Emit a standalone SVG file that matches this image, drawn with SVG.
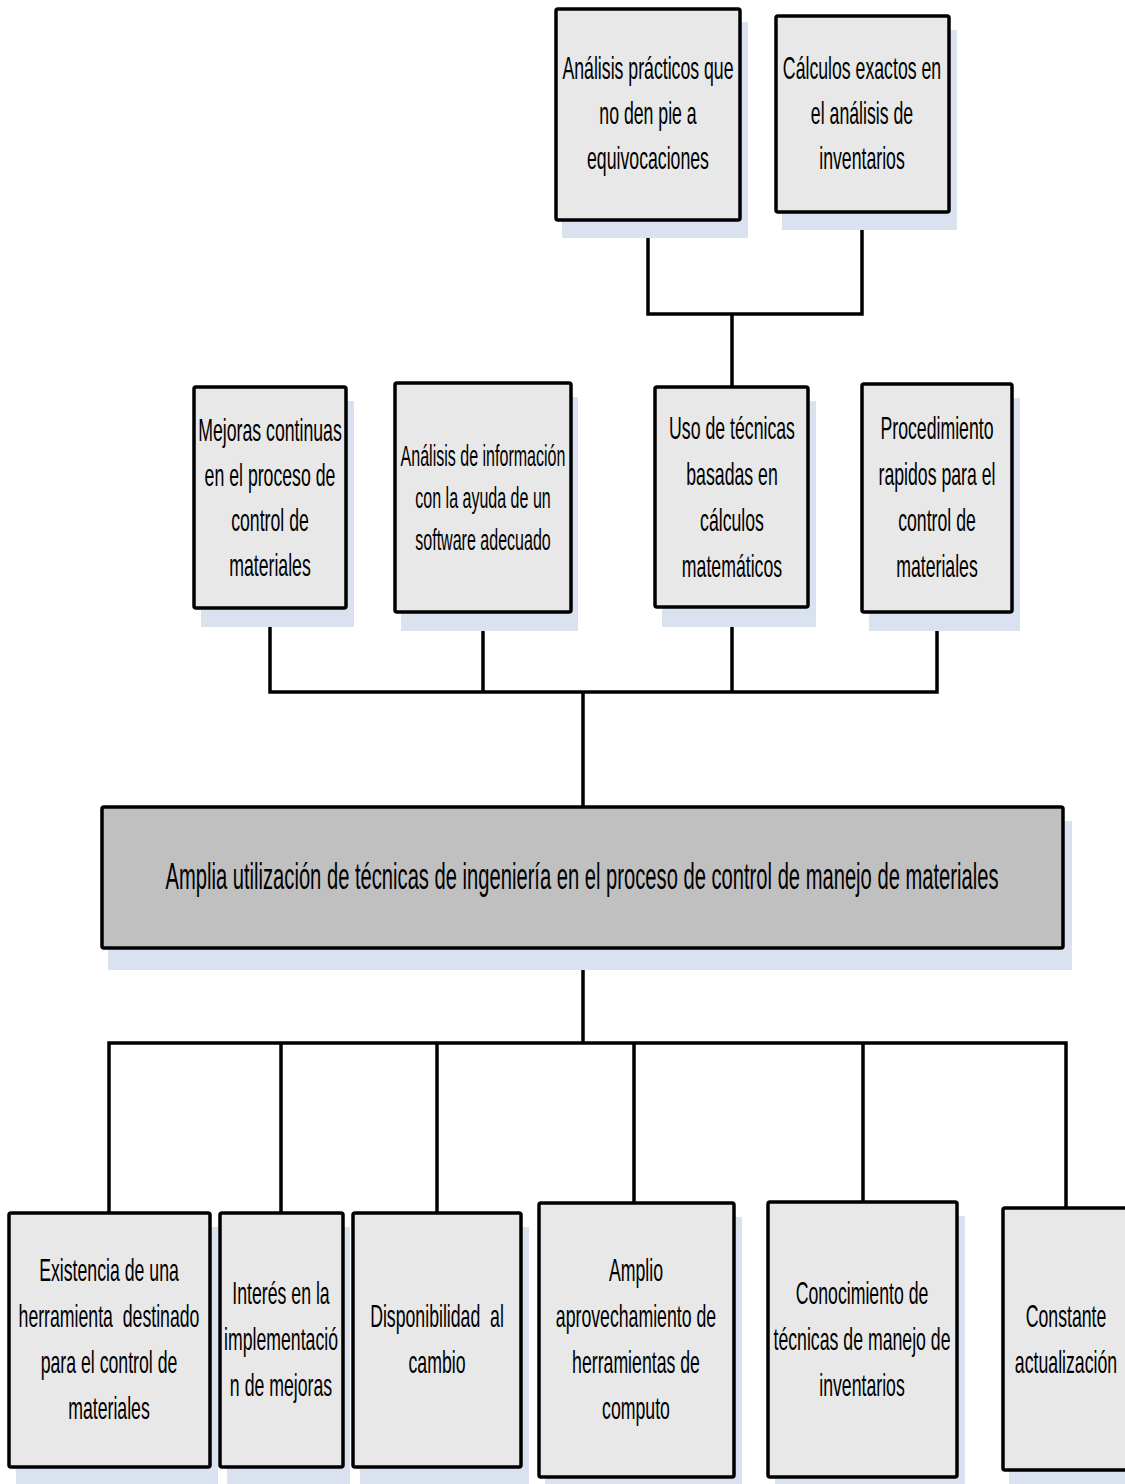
<svg xmlns="http://www.w3.org/2000/svg" width="1125" height="1484" viewBox="0 0 1125 1484">
<style>
.sh{fill:#dae2f0;stroke:none}
.bx{fill:#e8e8e8;stroke:#000;stroke-width:3.5}
.mb{fill:#c0c0c0;stroke:#000;stroke-width:3.5}
.t{font-family:"Liberation Sans",Arial,sans-serif;font-size:32px;fill:#000;text-anchor:middle;white-space:pre}
.ts{font-size:29px}
.tm{font-size:37px}
.cn{fill:none;stroke:#000;stroke-width:3.5}
</style>
<rect width="1125" height="1484" fill="#fff"/>
<g id="connectors">
<polyline class="cn" points="648,220 648,314 862,314 862,212"/>
<line class="cn" x1="732" y1="314" x2="732" y2="387"/>
<polyline class="cn" points="270,608 270,692 937,692 937,612"/>
<line class="cn" x1="483" y1="612" x2="483" y2="692"/>
<line class="cn" x1="732" y1="607" x2="732" y2="692"/>
<line class="cn" x1="583" y1="692" x2="583" y2="807"/>
<line class="cn" x1="583" y1="948" x2="583" y2="1043"/>
<polyline class="cn" points="109,1213 109,1043 1066,1043 1066,1208"/>
<line class="cn" x1="281" y1="1043" x2="281" y2="1213"/>
<line class="cn" x1="437" y1="1043" x2="437" y2="1213"/>
<line class="cn" x1="634" y1="1043" x2="634" y2="1203"/>
<line class="cn" x1="863" y1="1043" x2="863" y2="1202"/>
</g>
<g id="n1">
<rect class="sh" x="562" y="22" width="186" height="216"/>
<rect class="bx" x="556" y="9" width="184" height="211" rx="2"/>
<g transform="translate(648,0) scale(0.553,1)"><text class="t" x="0" y="79">Análisis prácticos que</text><text class="t" x="0" y="124">no den pie a</text><text class="t" x="0" y="169">equivocaciones</text></g>
</g>
<g id="n2">
<rect class="sh" x="782" y="30" width="175" height="200"/>
<rect class="bx" x="776" y="16" width="173" height="196" rx="2"/>
<g transform="translate(862,0) scale(0.553,1)"><text class="t" x="0" y="79">Cálculos exactos en</text><text class="t" x="0" y="124">el análisis de</text><text class="t" x="0" y="169">inventarios</text></g>
</g>
<g id="n3">
<rect class="sh" x="201" y="401" width="153" height="226"/>
<rect class="bx" x="194" y="387" width="152" height="221" rx="2"/>
<g transform="translate(270,0) scale(0.553,1)"><text class="t" x="0" y="441">Mejoras continuas</text><text class="t" x="0" y="486">en el proceso de</text><text class="t" x="0" y="531">control de</text><text class="t" x="0" y="576">materiales</text></g>
</g>
<g id="n4">
<rect class="sh" x="401" y="397" width="177" height="234"/>
<rect class="bx" x="395" y="383" width="176" height="229" rx="2"/>
<g transform="translate(483,0) scale(0.553,1)"><text class="t ts" x="0" y="466">Análisis de información</text><text class="t ts" x="0" y="508">con la ayuda de un</text><text class="t ts" x="0" y="550">software adecuado</text></g>
</g>
<g id="n5">
<rect class="sh" x="662" y="401" width="154" height="226"/>
<rect class="bx" x="655" y="387" width="153" height="220" rx="2"/>
<g transform="translate(732,0) scale(0.553,1)"><text class="t" x="0" y="439">Uso de técnicas</text><text class="t" x="0" y="485">basadas en</text><text class="t" x="0" y="531">cálculos</text><text class="t" x="0" y="577">matemáticos</text></g>
</g>
<g id="n6">
<rect class="sh" x="869" y="398" width="151" height="233"/>
<rect class="bx" x="862" y="384" width="150" height="228" rx="2"/>
<g transform="translate(937,0) scale(0.553,1)"><text class="t" x="0" y="439">Procedimiento</text><text class="t" x="0" y="485">rapidos para el</text><text class="t" x="0" y="531">control de</text><text class="t" x="0" y="577">materiales</text></g>
</g>
<g id="main">
<rect class="sh" x="108" y="821" width="964" height="149"/>
<rect class="mb" x="102" y="807" width="961" height="141" rx="2"/>
<text class="t tm" x="582" y="889" textLength="833" lengthAdjust="spacingAndGlyphs">Amplia utilización de técnicas de ingeniería en el proceso de control de manejo de materiales</text>
</g>
<g id="b1">
<rect class="sh" x="16" y="1227" width="202" height="260"/>
<rect class="bx" x="9" y="1213" width="201" height="254" rx="2"/>
<g transform="translate(109,0) scale(0.553,1)"><text class="t" x="0" y="1281">Existencia de una</text><text class="t" x="0" y="1327">herramienta  destinado</text><text class="t" x="0" y="1373">para el control de</text><text class="t" x="0" y="1419">materiales</text></g>
</g>
<g id="b2">
<rect class="sh" x="227" y="1227" width="123" height="260"/>
<rect class="bx" x="220" y="1213" width="123" height="254" rx="2"/>
<g transform="translate(281,0) scale(0.553,1)"><text class="t" x="0" y="1304">Interés en la</text><text class="t" x="0" y="1350">implementació</text><text class="t" x="0" y="1396">n de mejoras</text></g>
</g>
<g id="b3">
<rect class="sh" x="360" y="1227" width="169" height="260"/>
<rect class="bx" x="353" y="1213" width="168" height="254" rx="2"/>
<g transform="translate(437,0) scale(0.553,1)"><text class="t" x="0" y="1327">Disponibilidad  al</text><text class="t" x="0" y="1373">cambio</text></g>
</g>
<g id="b4">
<rect class="sh" x="545" y="1217" width="197" height="280"/>
<rect class="bx" x="539" y="1203" width="195" height="274" rx="2"/>
<g transform="translate(636,0) scale(0.553,1)"><text class="t" x="0" y="1281">Amplio</text><text class="t" x="0" y="1327">aprovechamiento de</text><text class="t" x="0" y="1373">herramientas de</text><text class="t" x="0" y="1419">computo</text></g>
</g>
<g id="b5">
<rect class="sh" x="775" y="1216" width="190" height="281"/>
<rect class="bx" x="768" y="1202" width="189" height="275" rx="2"/>
<g transform="translate(862,0) scale(0.553,1)"><text class="t" x="0" y="1304">Conocimiento de</text><text class="t" x="0" y="1350">técnicas de manejo de</text><text class="t" x="0" y="1396">inventarios</text></g>
</g>
<g id="b6">
<rect class="sh" x="1009" y="1222" width="130" height="266"/>
<rect class="bx" x="1003" y="1208" width="130" height="262" rx="2"/>
<g transform="translate(1066,0) scale(0.553,1)"><text class="t" x="0" y="1327">Constante</text><text class="t" x="0" y="1373">actualización</text></g>
</g>
</svg>
